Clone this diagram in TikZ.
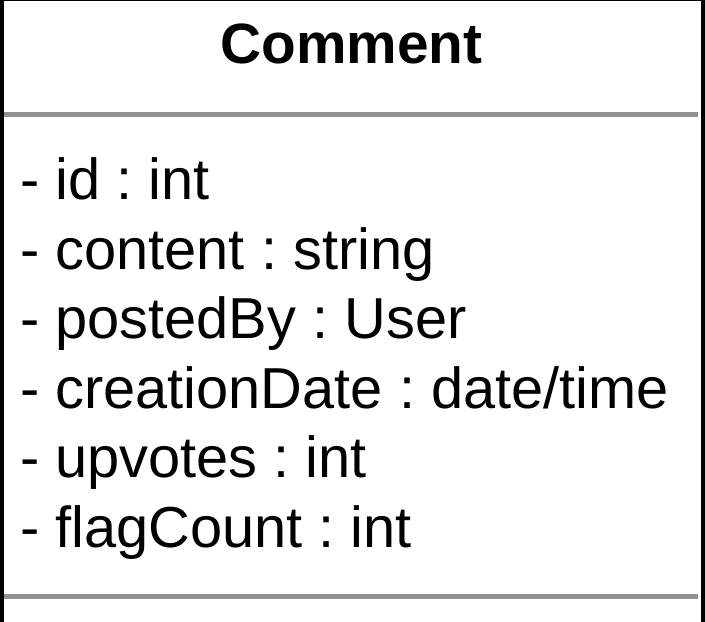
\documentclass[tikz,border=0pt]{standalone}
\usepackage{fontspec}
\setmainfont{Liberation Sans}
\frenchspacing
\definecolor{sepgray}{HTML}{919191}
\tikzset{
  attr/.style={anchor=base west, inner sep=0pt, font=\fontsize{58}{69}\selectfont},
  title/.style={anchor=base, inner sep=0pt, font=\fontsize{57}{69}\selectfont\bfseries},
  border/.style={draw=black, line width=4bp},
  sep/.style={draw=sepgray, line width=5bp}
}
\begin{document}
\begin{tikzpicture}[x=1bp, y=-1bp]
\useasboundingbox (0,0) rectangle (705,622);
\fill[white] (0,0) rectangle (705,622);
\coordinate (tl) at (0,0.75);
\coordinate (tr) at (705,0.75);
\coordinate (lt) at (2,0);
\coordinate (lb) at (2,622);
\coordinate (rt) at (703,0);
\coordinate (rb) at (703,622);
\coordinate (s1l) at (4,114.5);
\coordinate (s1r) at (698,114.5);
\coordinate (s2l) at (4,596.5);
\coordinate (s2r) at (698,596.5);
\draw[draw=black, line width=1.5bp] (tl) -- (tr);
\draw[border] (lt) -- (lb);
\draw[border] (rt) -- (rb);
\draw[sep] (s1l) -- (s1r);
\draw[sep] (s2l) -- (s2r);
\node[title] (name) at (351.5,64) {Comment};
\node[attr] (a1) at (20,199.5) {- id : int};
\node[attr] (a2) at (20,269) {- content : string};
\node[attr] (a3) at (20,338.5) {- postedBy : User};
\node[attr] (a4) at (20,408) {- creationDate : date/time};
\node[attr] (a5) at (20,477.5) {- upvotes : int};
\node[attr] (a6) at (20,547) {- flagCount : int};
\end{tikzpicture}
\end{document}
